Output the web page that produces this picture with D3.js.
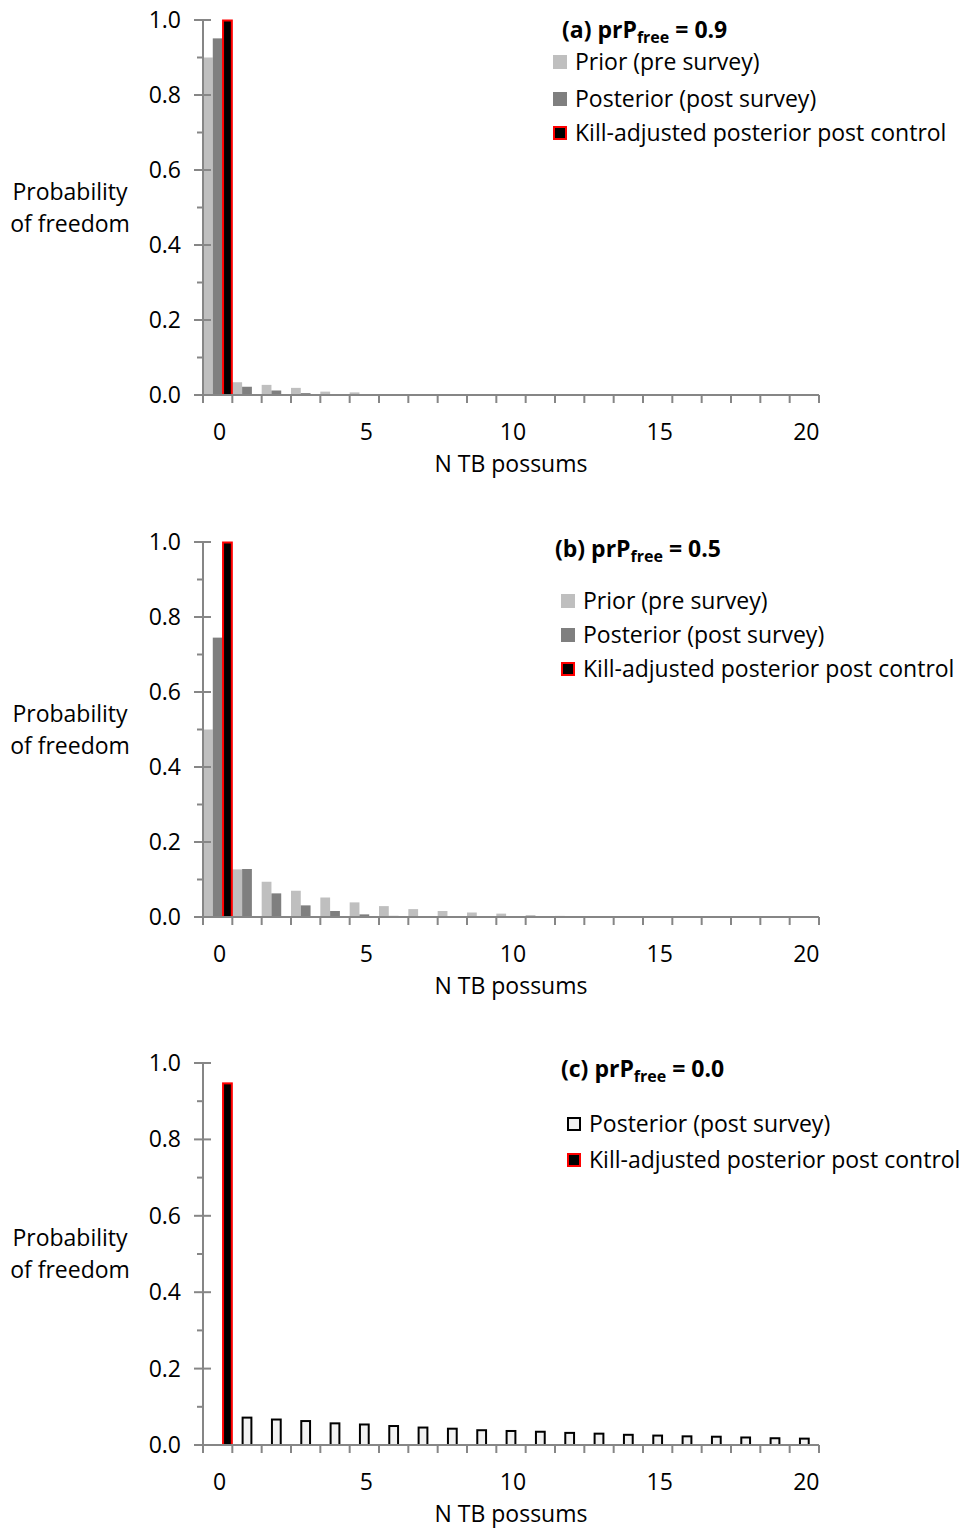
<!DOCTYPE html>
<html>
<head>
<meta charset="utf-8">
<script src="https://cdn.jsdelivr.net/npm/d3@7"></script>
<style>
body { margin: 0; background: #fff; }
text { font-family: "Open Sans", Lato, sans-serif; fill: #000; }
</style>
</head>
<body>
<div id="chart"></div>
<script>
// N TB possums
const categories = [0, 1, 2, 3, 4, 5, 6, 7, 8, 9, 10, 11, 12, 13, 14, 15, 16, 17, 18, 19, 20]
const yTicks = [0, 0.2, 0.4, 0.6, 0.8, 1.0]
const xTickLabels = [0, 5, 10, 15, 20]

// (a) prPfree = 0.9
const priorA = [0.90, 0.034, 0.027, 0.019, 0.009, 0.007, 0, 0, 0, 0, 0, 0, 0, 0, 0, 0, 0, 0, 0, 0, 0]
const postA = [0.951, 0.022, 0.012, 0.005, 0.002, 0.001, 0, 0, 0, 0, 0, 0, 0, 0, 0, 0, 0, 0, 0, 0, 0]
const killA = [1.0, 0.001, 0.001, 0.001, 0.001, 0.001, 0.001, 0, 0, 0, 0, 0, 0, 0, 0, 0, 0, 0, 0, 0, 0]

// (b) prPfree = 0.5
const priorB = [0.50, 0.127, 0.094, 0.070, 0.052, 0.039, 0.029, 0.021, 0.016, 0.012, 0.009, 0.005, 0.003, 0.002, 0, 0, 0, 0, 0, 0, 0]
const postB = [0.745, 0.128, 0.063, 0.031, 0.016, 0.007, 0.003, 0.001, 0, 0, 0, 0, 0, 0, 0, 0, 0, 0, 0, 0, 0]
const killB = [1.0, 0.001, 0, 0, 0, 0, 0, 0, 0, 0, 0, 0, 0, 0, 0, 0, 0, 0, 0, 0, 0]

// (c) prPfree = 0.0
const priorC = [0, 0, 0, 0, 0, 0, 0, 0, 0, 0, 0, 0, 0, 0, 0, 0, 0, 0, 0, 0, 0]
const postC = [0, 0.073, 0.068, 0.064, 0.058, 0.055, 0.051, 0.047, 0.044, 0.040, 0.038, 0.036, 0.033, 0.031, 0.028, 0.026, 0.024, 0.023, 0.021, 0.019, 0.018]
const killC = [0.948, 0.001, 0.001, 0.001, 0.001, 0.001, 0.001, 0.001, 0.001, 0.001, 0.001, 0.001, 0.001, 0.001, 0.001, 0.001, 0.001, 0.001, 0.001, 0.001, 0.001]

const legendPrior = "Prior (pre survey)"
const legendPost = "Posterior (post survey)"
const legendKill = "Kill-adjusted posterior post control"

const axisColor = "#868686"
const fontSize = 23

const panels = [
    { tag: "(a)", val: "0.9", top: 20, bottom: 395, prior: priorA, post: postA, kill: killA,
      postFill: "#7f7f7f", postStroke: "none", titleX: 562, titleY: 38,
      legX: 553, legY: [62, 99, 133], showPrior: true },
    { tag: "(b)", val: "0.5", top: 542, bottom: 917, prior: priorB, post: postB, kill: killB,
      postFill: "#7f7f7f", postStroke: "none", titleX: 555, titleY: 557,
      legX: 561, legY: [601, 635, 669], showPrior: true },
    { tag: "(c)", val: "0.0", top: 1063, bottom: 1445, prior: priorC, post: postC, kill: killC,
      postFill: "#f2f2f2", postStroke: "#000", titleX: 561, titleY: 1077,
      legX: 567, legY: [1124, 1160], showPrior: false }
]

const svg = d3.select("#chart").append("svg")
    .attr("width", 968)
    .attr("height", 1531)

const x = d3.scaleBand().domain(categories).range([203, 819]).paddingInner(0).paddingOuter(0)
const slot = d3.scaleBand().domain(["prior", "post", "kill"]).range([0, x.bandwidth()])

function drawPanel(p) {
    const g = svg.append("g")
    const y = d3.scaleLinear().domain([0, 1]).range([p.bottom, p.top])
    const x0 = x.range()[0]

    // bars
    const series = [
        { key: "prior", values: p.prior, fill: "#bfbfbf", stroke: "none", sw: 0 },
        { key: "post", values: p.post, fill: p.postFill, stroke: p.postStroke, sw: p.postStroke == "none" ? 0 : 2 },
        { key: "kill", values: p.kill, fill: "#000", stroke: "#ff0000", sw: 2 }
    ]
    series.forEach(s => {
        const d = categories.map((c, i) => ({ c: c, v: s.values[i] })).filter(d => d.v > 0)
        const inset = s.sw ? 0.5 : 0
        g.append("g").selectAll("rect").data(d).enter().append("rect")
            .attr("x", d => x(d.c) + slot(s.key) + inset)
            .attr("width", slot.bandwidth() - 2 * inset)
            .attr("y", d => y(d.v) + inset)
            .attr("height", d => Math.max(0, y(0) - y(d.v) - inset))
            .attr("fill", s.fill)
            .attr("stroke", s.stroke)
            .attr("stroke-width", s.sw)
    })

    // y axis
    g.append("line").attr("x1", x0).attr("x2", x0).attr("y1", y(1)).attr("y2", y(0))
        .attr("stroke", axisColor).attr("stroke-width", 2)
    const minor = [0.1, 0.3, 0.5, 0.7, 0.9]
    g.selectAll(".major").data(yTicks).enter().append("line")
        .attr("x1", x0 - 9).attr("x2", x0 + 8)
        .attr("y1", d => y(d)).attr("y2", d => y(d))
        .attr("stroke", axisColor).attr("stroke-width", 2)
    g.selectAll(".minor").data(minor).enter().append("line")
        .attr("x1", x0 - 6).attr("x2", x0)
        .attr("y1", d => y(d)).attr("y2", d => y(d))
        .attr("stroke", axisColor).attr("stroke-width", 2)
    g.selectAll(".ylab").data(yTicks).enter().append("text")
        .attr("x", x0 - 22).attr("y", d => y(d))
        .attr("dy", "0.35em")
        .attr("text-anchor", "end")
        .style("font-size", fontSize + "px")
        .text(d => d.toFixed(1))

    // x axis
    g.append("line").attr("x1", x0).attr("x2", x.range()[1]).attr("y1", y(0)).attr("y2", y(0))
        .attr("stroke", axisColor).attr("stroke-width", 2)
    const edges = categories.map(c => x(c)).concat([x.range()[1]])
    g.selectAll(".xt").data(edges).enter().append("line")
        .attr("x1", d => d).attr("x2", d => d)
        .attr("y1", y(0)).attr("y2", y(0) + 8)
        .attr("stroke", axisColor).attr("stroke-width", 2)
    g.selectAll(".xlab").data(xTickLabels).enter().append("text")
        .attr("x", d => x(d) + x.bandwidth() / 2 + 2)
        .attr("y", y(0) + 37)
        .attr("dy", "0.35em")
        .attr("text-anchor", "middle")
        .style("font-size", fontSize + "px")
        .text(d => d)
    g.append("text")
        .attr("x", 511).attr("y", y(0) + 69)
        .attr("dy", "0.35em")
        .attr("text-anchor", "middle")
        .style("font-size", fontSize + "px")
        .text("N TB possums")

    // y title
    const mid = (p.top + p.bottom) / 2
    g.append("text").attr("x", 70).attr("y", mid - 16).attr("dy", "0.35em")
        .attr("text-anchor", "middle").style("font-size", fontSize + "px").text("Probability")
    g.append("text").attr("x", 70).attr("y", mid + 16).attr("dy", "0.35em")
        .attr("text-anchor", "middle").style("font-size", fontSize + "px").text("of freedom")

    // panel title
    const t = g.append("text").attr("x", p.titleX).attr("y", p.titleY)
        .style("font-size", fontSize + "px").style("font-weight", "bold")
    t.append("tspan").text(p.tag + " prP")
    t.append("tspan").attr("dy", 5).style("font-size", "16px").text("free")
    t.append("tspan").attr("dy", -5).text(" = " + p.val)

    // legend
    let items = [
        { label: legendPrior, fill: "#bfbfbf", stroke: "none" },
        { label: legendPost, fill: p.postFill, stroke: p.postStroke },
        { label: legendKill, fill: "#000", stroke: "#ff0000" }
    ]
    if (!p.showPrior) items = items.slice(1)
    items.forEach((it, i) => {
        const ly = p.legY[i]
        g.append("rect")
            .attr("x", p.legX + 1).attr("y", ly - 6)
            .attr("width", 12).attr("height", 12)
            .attr("fill", it.fill)
            .attr("stroke", it.stroke == "none" ? it.fill : it.stroke)
            .attr("stroke-width", 2)
        g.append("text")
            .attr("x", p.legX + 22).attr("y", ly)
            .attr("dy", "0.35em")
            .style("font-size", fontSize + "px")
            .text(it.label)
    })
}

panels.forEach(drawPanel)
</script>
</body>
</html>
